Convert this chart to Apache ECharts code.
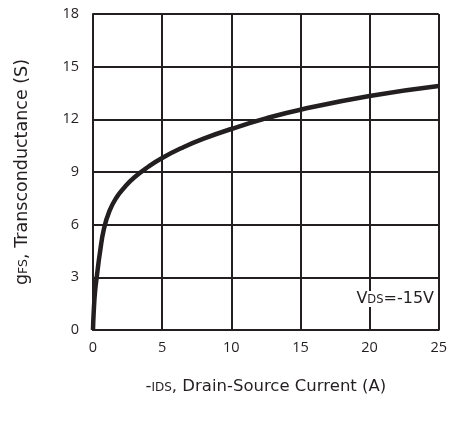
<!DOCTYPE html>
<html><head><meta charset="utf-8">
<script src="https://cdn.jsdelivr.net/npm/echarts@6/dist/echarts.min.js"></script>
<style>html,body{margin:0;padding:0;background:#fff}#c{width:450px;height:425px}</style>
</head><body><div id="c"></div>
<script>
const currentA = [0, 0.05, 0.15, 0.3, 0.5, 0.8, 1.2, 1.7, 2.3, 3, 4, 5, 6.5, 8, 10, 12.5, 15, 20, 25];
const gfsS = [0, 1.0, 2.2, 3.2, 4.4, 5.8, 6.8, 7.55, 8.15, 8.7, 9.3, 9.8, 10.4, 10.9, 11.45, 12.05, 12.55, 13.33, 13.9];
const xTicks = [0, 5, 10, 15, 20, 25];
const yTicks = [0, 3, 6, 9, 12, 15, 18];

const chart = echarts.init(document.getElementById('c'));
const font = 'DejaVu Sans';
const tickFont = 'Open Sans';
const col = '#231f20';
chart.setOption({
  animation: false,
  grid: {left: 93, top: 14, right: 8, bottom: 95},
  xAxis: {
    type: 'value', min: 0, max: 25, interval: 5,
    name: '-{s|IDS}, Drain-Source Current (A)', nameLocation: 'middle', nameGap: 48,
    nameTextStyle: {fontFamily: font, fontSize: 16.5, color: col,
      rich: {s: {fontFamily: font, fontSize: 12, color: col, padding: [3,0,0,0]}}},
    axisLine: {lineStyle: {color: col, width: 2}},
    axisTick: {show: false},
    axisLabel: {fontFamily: tickFont, fontSize: 14.5, color: col, margin: 10},
    splitLine: {lineStyle: {color: col, width: 2}}
  },
  yAxis: {
    type: 'value', min: 0, max: 18, interval: 3,
    name: 'g{s|FS}, Transconductance (S)', nameLocation: 'middle', nameGap: 62,
    nameTextStyle: {fontFamily: font, fontSize: 17.5, color: col,
      rich: {s: {fontFamily: font, fontSize: 12.5, color: col, padding: [3,0,0,0]}}},
    axisLine: {show: true, lineStyle: {color: col, width: 2}},
    axisTick: {show: false},
    axisLabel: {fontFamily: tickFont, fontSize: 14.5, color: col, margin: 14},
    splitLine: {lineStyle: {color: col, width: 2}}
  },
  series: [{
    type: 'line', smooth: 0.5, showSymbol: false,
    data: currentA.map((x, i) => [x, gfsS[i]]),
    lineStyle: {color: col, width: 4.5},
    z: 5
  }],
  graphic: [{
    type: 'text', right: 12, top: 291, z: 10,
    style: {
      text: 'V{s|DS}=-15V', fontFamily: font, fontSize: 16, fill: col,
      backgroundColor: '#fff', padding: [0, 4, 0, 8],
      rich: {s: {fontFamily: font, fontSize: 11.5, fill: col, padding: [3,0,0,0]}}
    }
  }]
});
</script></body></html>
